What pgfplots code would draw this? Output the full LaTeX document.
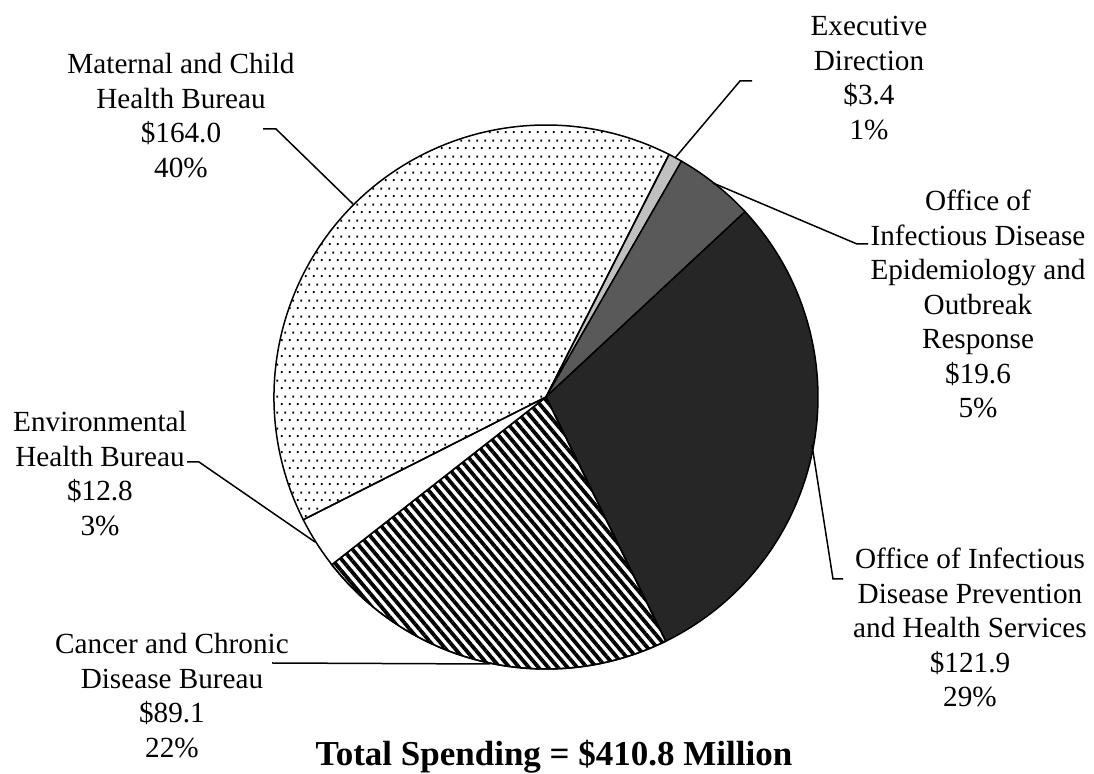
\documentclass[border=0pt]{standalone}
\usepackage{pgfplots}
\pgfplotsset{compat=1.18}
\usepackage{pgfplotstable}
\usepackage{fontspec}
\setmainfont{Liberation Serif}
\usetikzlibrary{patterns,patterns.meta}

\pgfdeclarepattern{
  name=sdots,
  type=uncolored,
  bottom left={\pgfpoint{0pt}{0pt}},
  top right={\pgfpoint{4pt}{8pt}},
  tile size={\pgfpoint{4pt}{8pt}},
  code={
    \pgfpathrectangle{\pgfpoint{0.5pt}{0.5pt}}{\pgfpoint{1pt}{1pt}}
    \pgfpathrectangle{\pgfpoint{2.5pt}{4.5pt}}{\pgfpoint{1pt}{1pt}}
    \pgfusepath{fill}
  }
}

\pgfplotstableread{
label value
Exec 3.4
IDEOR 19.6
IDPHS 121.9
CCDB 89.1
EHB 12.8
MCHB 164.0
}\pietable

\pgfplotstablegetelem{0}{value}\of\pietable\edef\vA{\pgfplotsretval}
\pgfplotstablegetelem{1}{value}\of\pietable\edef\vB{\pgfplotsretval}
\pgfplotstablegetelem{2}{value}\of\pietable\edef\vC{\pgfplotsretval}
\pgfplotstablegetelem{3}{value}\of\pietable\edef\vD{\pgfplotsretval}
\pgfplotstablegetelem{4}{value}\of\pietable\edef\vE{\pgfplotsretval}
\pgfplotstablegetelem{5}{value}\of\pietable\edef\vF{\pgfplotsretval}
\pgfmathsetmacro\vT{\vA+\vB+\vC+\vD+\vE+\vF}
\pgfmathsetmacro\aO{63.1}
\pgfmathsetmacro\aA{\aO-(\vA/\vT)*360}
\pgfmathsetmacro\aB{\aA-(\vB/\vT)*360}
\pgfmathsetmacro\aC{\aB-(\vC/\vT)*360}
\pgfmathsetmacro\aD{\aC-(\vD/\vT)*360}
\pgfmathsetmacro\aE{\aD-(\vE/\vT)*360}
\pgfmathsetmacro\aF{\aE-(\vF/\vT)*360}

\definecolor{execgray}{HTML}{C0C0C0}
\definecolor{ideorgray}{HTML}{595959}
\definecolor{idphsgray}{HTML}{262626}

\newcommand{\lbl}{\fontsize{14.6pt}{17.25pt}\selectfont}
\def\R{136pt}
\def\C{(axis cs:546,397)}

\begin{document}
\begin{tikzpicture}
\begin{axis}[
  at={(0,0)}, anchor=south west,
  x=0.5pt, y=0.5pt,
  xmin=0, xmax=1094, ymin=0, ymax=774,
  y dir=reverse,
  hide axis,
  clip=false,
]
% slices
\draw[line width=0.75pt, fill=execgray] \C -- ++(\aO:\R) arc[start angle=\aO, end angle=\aA, radius=\R] -- cycle;
\draw[line width=0.75pt, fill=ideorgray] \C -- ++(\aA:\R) arc[start angle=\aA, end angle=\aB, radius=\R] -- cycle;
\draw[line width=0.75pt, fill=idphsgray] \C -- ++(\aB:\R) arc[start angle=\aB, end angle=\aC, radius=\R] -- cycle;
\draw[line width=0.75pt, fill=white] \C -- ++(\aC:\R) arc[start angle=\aC, end angle=\aD, radius=\R] -- cycle;
\draw[line width=0.75pt, pattern={Lines[angle=-50, distance=3.7pt, line width=1.9pt]}, pattern color=black] \C -- ++(\aC:\R) arc[start angle=\aC, end angle=\aD, radius=\R] -- cycle;
\draw[line width=0.75pt, fill=white] \C -- ++(\aD:\R) arc[start angle=\aD, end angle=\aE, radius=\R] -- cycle;
\draw[line width=0.75pt, pattern=sdots, pattern color=black] \C -- ++(\aE:\R) arc[start angle=\aE, end angle=\aF, radius=\R] -- cycle;

% leader lines
\draw[line width=0.75pt] (axis cs:263,129) -- (axis cs:276,129) -- (axis cs:353,204);
\draw[line width=0.75pt] (axis cs:752,81) -- (axis cs:740,81) -- (axis cs:675,158);
\draw[line width=0.75pt] (axis cs:713,183) -- (axis cs:857,244) -- (axis cs:868,244);
\draw[line width=0.75pt] (axis cs:812,445) -- (axis cs:833,579) -- (axis cs:843,579);
\draw[line width=0.75pt] (axis cs:187,462) -- (axis cs:199,462) -- (axis cs:315,542);
\draw[line width=0.75pt] (axis cs:272,663) -- (axis cs:490,664);

% labels
\node[anchor=north, inner sep=0pt, align=center, font=\lbl] at (axis cs:181,53) {Maternal and Child\\Health Bureau\\\$164.0\\40\%};
\node[anchor=north, inner sep=0pt, align=center, font=\lbl] at (axis cs:869,16) {Executive\\Direction\\\$3.4\\1\%};
\node[anchor=north, inner sep=0pt, align=center, font=\lbl] at (axis cs:978,190) {Office of\\Infectious Disease\\Epidemiology and\\Outbreak\\Response\\\$19.6\\5\%};
\node[anchor=north, inner sep=0pt, align=center, font=\lbl] at (axis cs:970,548) {Office of Infectious\\Disease Prevention\\and Health Services\\\$121.9\\29\%};
\node[anchor=north, inner sep=0pt, align=center, font=\lbl] at (axis cs:100,411) {Environmental\\Health Bureau\\\$12.8\\3\%};
\node[anchor=north, inner sep=0pt, align=center, font=\lbl] at (axis cs:172,633) {Cancer and Chronic\\Disease Bureau\\\$89.1\\22\%};
\node[anchor=base, inner sep=0pt, font=\fontsize{17.5pt}{21pt}\selectfont\bfseries] at (axis cs:554,766) {Total Spending = \$410.8 Million};
\end{axis}
\pgfresetboundingbox
\path (0,0) rectangle (547pt,387pt);
\end{tikzpicture}
\end{document}
